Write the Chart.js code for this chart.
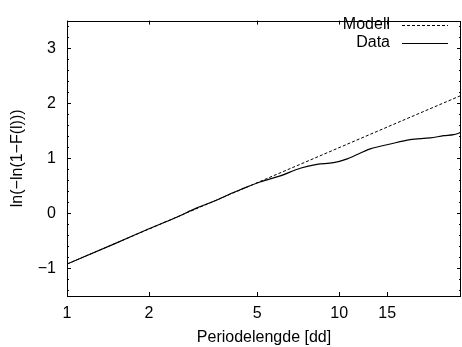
<!DOCTYPE html>
<html>
<head>
<meta charset="utf-8">
<script src="https://cdn.jsdelivr.net/npm/chart.js@4"></script>
<style>
html,body{margin:0;padding:0;background:#fff;}
canvas{display:block;}
</style>
</head>
<body>
<canvas id="c" width="462" height="347"></canvas>
<script>
// ---- data ----
const seriesLabels = ["Modell", "Data"];
const modelX = [1, 28];
const modelY = [-0.92, 2.14];
const dataX = [1, 1.5, 2, 2.5, 3, 3.5, 4, 4.33, 5.12, 6.07, 7.19, 8.28, 9.53, 10.7, 13.0, 15.4, 18.2, 21.6, 24.2, 26.3, 28];
const dataY = [-0.92, -0.55, -0.28, -0.08, 0.10, 0.23, 0.36, 0.43, 0.57, 0.68, 0.82, 0.89, 0.92, 0.99, 1.17, 1.26, 1.34, 1.37, 1.41, 1.43, 1.47];
const xTicks = [1, 2, 5, 10, 15];
const yTicks = [-1, 0, 1, 2, 3];
const yMinorStep = 0.2;
const xTitle = "Periodelengde [dd]";
const yTitle = "ln(\u2212ln(1\u2212F(l)))";

const FONT = "'Liberation Sans', Arial, Helvetica, sans-serif";

function pts(xs, ys){ return xs.map((x,i)=>({x:x, y:ys[i]})); }

const framePlugin = {
  id: 'frame',
  afterDraw(chart){
    const ctx = chart.ctx, a = chart.chartArea;
    const xs = chart.scales.x, ys = chart.scales.y;
    ctx.save();
    ctx.strokeStyle = '#000';
    ctx.lineWidth = 1;
    ctx.setLineDash([]);
    ctx.strokeRect(Math.round(a.left)+0.5, Math.round(a.top)+0.5, Math.round(a.right-a.left)-1, Math.round(a.bottom-a.top));
    ctx.beginPath();
    xTicks.forEach(v=>{
      const px = Math.round(xs.getPixelForValue(v))+0.5;
      ctx.moveTo(px, a.bottom); ctx.lineTo(px, a.bottom-4);
      ctx.moveTo(px, a.top); ctx.lineTo(px, a.top+4);
    });
    const ymin = ys.min, ymax = ys.max;
    for(let k=Math.ceil(ymin/yMinorStep); k*yMinorStep<=ymax+1e-9; k++){
      const v = k*yMinorStep;
      const major = yTicks.some(t=>Math.abs(t-v)<1e-6);
      const len = major ? 4 : 2;
      const py = Math.round(ys.getPixelForValue(v))+0.5;
      ctx.moveTo(a.left, py); ctx.lineTo(a.left+len, py);
      ctx.moveTo(a.right, py); ctx.lineTo(a.right-len, py);
    }
    ctx.stroke();
    // legend (gnuplot style)
    ctx.font = '16px ' + FONT;
    ctx.fillStyle = '#000';
    ctx.textAlign = 'right';
    ctx.textBaseline = 'middle';
    const rows = [{y:25, ds:chart.data.datasets[0]}, {y:43, ds:chart.data.datasets[1]}];
    rows.forEach(r=>{
      ctx.fillText(r.ds.label, 390, r.y);
      ctx.beginPath();
      ctx.lineWidth = r.ds.borderWidth;
      ctx.setLineDash(r.ds.borderDash || []);
      ctx.moveTo(402, r.y+0.5); ctx.lineTo(448, r.y+0.5);
      ctx.stroke();
    });
    ctx.restore();
  }
};

new Chart(document.getElementById('c'), {
  type: 'line',
  data: {
    datasets: [
      { label: seriesLabels[0], data: pts(modelX, modelY), borderColor:'#000', borderWidth:1, borderDash:[3,2], pointRadius:0, fill:false, tension:0 },
      { label: seriesLabels[1], data: pts(dataX, dataY), borderColor:'#000', borderWidth:1.2, pointRadius:0, fill:false, cubicInterpolationMode:'monotone' }
    ]
  },
  options: {
    responsive:false, animation:false, devicePixelRatio:1,
    layout:{ padding:{ top:13, right:1, left:0, bottom:0 } },
    plugins:{ legend:{display:false}, tooltip:{enabled:false} },
    scales:{
      x:{
        type:'logarithmic', min:1, max:28,
        afterBuildTicks(s){ s.ticks = xTicks.map(v=>({value:v})); },
        afterFit(s){ s.height = 51; },
        grid:{ display:false, drawTicks:false },
        border:{ display:false },
        ticks:{ color:'#000', font:{family:FONT, size:16}, padding:8, maxRotation:0, autoSkip:false, callback:(v)=>String(v) },
        title:{ display:true, text:xTitle, color:'#000', font:{family:FONT, size:16}, padding:{top:7,bottom:0} }
      },
      y:{
        type:'linear', min:-1.5, max:3.5,
        afterBuildTicks(s){ s.ticks = yTicks.map(v=>({value:v})); },
        afterFit(s){ s.width = 67; },
        grid:{ display:false, drawTicks:false },
        border:{ display:false },
        ticks:{ color:'#000', font:{family:FONT, size:16}, padding:11, autoSkip:false, callback:(v)=> (v<0? '\u2212'+Math.abs(v) : String(v)) },
        title:{ display:true, text:yTitle, color:'#000', font:{family:FONT, size:16}, padding:{top:8,bottom:0} }
      }
    }
  },
  plugins:[framePlugin]
});
</script>
</body>
</html>
